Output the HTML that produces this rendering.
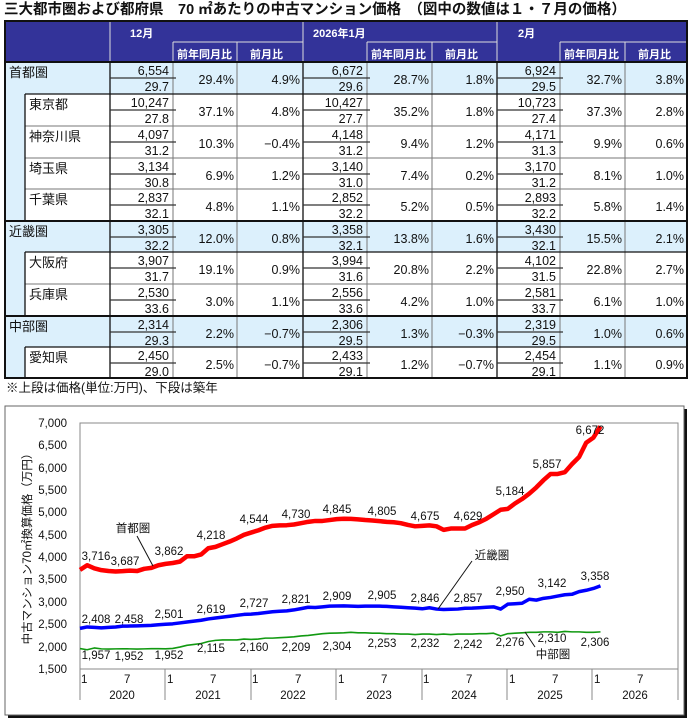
<!DOCTYPE html>
<html><head><meta charset="utf-8"><style>
body{margin:0;background:#fff;width:692px;height:722px;overflow:hidden}
svg{display:block}
text{font-family:"Liberation Sans","Noto Sans CJK JP",sans-serif}
.n{font-size:12.5px;text-anchor:end;fill:#111}
.j{font-size:13px;fill:#111}
.h{font-size:11px;fill:#fff;font-weight:bold}
.t{font-size:11.5px;fill:#111}
.a{font-size:11.5px;text-anchor:middle;fill:#111}
</style></head><body>
<svg width="692" height="722" viewBox="0 0 692 722">
<text x="4" y="14" style="font-size:14.5px;font-weight:bold" fill="#111">三大都市圏および都府県　70 ㎡あたりの中古マンション価格　（図中の数値は１・７月の価格）</text>
<!-- header -->
<rect x="5" y="21" width="682" height="41" fill="#333399"/>
<g stroke="#ddd" stroke-width="1">
<line x1="110" y1="21" x2="110" y2="62"/><line x1="303" y1="21" x2="303" y2="62"/><line x1="497" y1="21" x2="497" y2="62"/>
<line x1="173" y1="42" x2="303" y2="42"/><line x1="367" y1="42" x2="497" y2="42"/><line x1="560" y1="42" x2="687" y2="42"/>
<line x1="173" y1="42" x2="173" y2="62"/><line x1="237" y1="42" x2="237" y2="62"/>
<line x1="367" y1="42" x2="367" y2="62"/><line x1="432" y1="42" x2="432" y2="62"/>
<line x1="560" y1="42" x2="560" y2="62"/><line x1="625" y1="42" x2="625" y2="62"/>
</g>
<text class="h" x="130" y="37">12月</text><text class="h" x="313" y="37">2026年1月</text><text class="h" x="518" y="37">2月</text>
<text class="h" x="177" y="58">前年同月比</text><text class="h" x="250" y="58">前月比</text>
<text class="h" x="371" y="58">前年同月比</text><text class="h" x="445" y="58">前月比</text>
<text class="h" x="564" y="58">前年同月比</text><text class="h" x="638" y="58">前月比</text>
<!-- body fills -->
<rect x="5" y="62" width="682" height="316" fill="#fff"/>
<rect x="5" y="62" width="682" height="32" fill="#dcf0fc"/>
<rect x="5" y="221" width="682" height="31" fill="#dcf0fc"/>
<rect x="5" y="316" width="682" height="31" fill="#dcf0fc"/>
<rect x="5" y="94" width="20" height="127" fill="#dcf0fc"/>
<rect x="5" y="252" width="20" height="64" fill="#dcf0fc"/>
<rect x="5" y="347" width="20" height="31" fill="#dcf0fc"/>
<!-- grid -->
<g stroke="#777" stroke-width="1">
<line x1="173" y1="62" x2="173" y2="378"/><line x1="237" y1="62" x2="237" y2="378"/>
<line x1="367" y1="62" x2="367" y2="378"/><line x1="432" y1="62" x2="432" y2="378"/>
<line x1="560" y1="62" x2="560" y2="378"/><line x1="625" y1="62" x2="625" y2="378"/>
<line x1="25" y1="126" x2="687" y2="126"/><line x1="25" y1="158" x2="687" y2="158"/><line x1="25" y1="189" x2="687" y2="189"/>
<line x1="25" y1="284" x2="687" y2="284"/>
</g>
<g stroke="#111" stroke-width="1.3">
<line x1="110" y1="62" x2="110" y2="378"/><line x1="303" y1="62" x2="303" y2="378"/><line x1="497" y1="62" x2="497" y2="378"/>
<line x1="25" y1="94" x2="25" y2="221"/><line x1="25" y1="252" x2="25" y2="316"/><line x1="25" y1="347" x2="25" y2="378"/>
<line x1="25" y1="94" x2="687" y2="94"/><line x1="25" y1="252" x2="687" y2="252"/><line x1="25" y1="347" x2="687" y2="347"/>
</g>
<g stroke="#111" stroke-width="2">
<line x1="5" y1="62" x2="687" y2="62"/><line x1="5" y1="221" x2="687" y2="221"/><line x1="5" y1="316" x2="687" y2="316"/>
<rect x="5" y="21" width="682" height="357" fill="none"/>
</g>
<!-- price midlines -->
<g stroke="#333" stroke-width="1.3">
<path d="M110 78H176M303 78H370M497 78H563M110 110H176M303 110H370M497 110H563M110 142H176M303 142H370M497 142H563M110 174H176M303 174H370M497 174H563M110 205H176M303 205H370M497 205H563M110 237H176M303 237H370M497 237H563M110 268H176M303 268H370M497 268H563M110 300H176M303 300H370M497 300H563M110 332H176M303 332H370M497 332H563M110 363H176M303 363H370M497 363H563"/>
</g>
<!-- names -->
<text class="j" x="9" y="77">首都圏</text><text class="j" x="29" y="109">東京都</text><text class="j" x="29" y="141">神奈川県</text>
<text class="j" x="29" y="173">埼玉県</text><text class="j" x="29" y="204">千葉県</text><text class="j" x="9" y="236">近畿圏</text>
<text class="j" x="29" y="267">大阪府</text><text class="j" x="29" y="299">兵庫県</text><text class="j" x="9" y="331">中部圏</text><text class="j" x="29" y="362">愛知県</text>
<!-- values -->
<g class="n">
<text x="169" y="75">6,554</text><text x="169" y="91">29.7</text><text x="234" y="84">29.4%</text><text x="300" y="84">4.9%</text>
<text x="363" y="75">6,672</text><text x="363" y="91">29.6</text><text x="429" y="84">28.7%</text><text x="494" y="84">1.8%</text>
<text x="556" y="75">6,924</text><text x="556" y="91">29.5</text><text x="622" y="84">32.7%</text><text x="684" y="84">3.8%</text>

<text x="169" y="107">10,247</text><text x="169" y="123">27.8</text><text x="234" y="116">37.1%</text><text x="300" y="116">4.8%</text>
<text x="363" y="107">10,427</text><text x="363" y="123">27.7</text><text x="429" y="116">35.2%</text><text x="494" y="116">1.8%</text>
<text x="556" y="107">10,723</text><text x="556" y="123">27.4</text><text x="622" y="116">37.3%</text><text x="684" y="116">2.8%</text>

<text x="169" y="139">4,097</text><text x="169" y="155">31.2</text><text x="234" y="148">10.3%</text><text x="300" y="148">−0.4%</text>
<text x="363" y="139">4,148</text><text x="363" y="155">31.2</text><text x="429" y="148">9.4%</text><text x="494" y="148">1.2%</text>
<text x="556" y="139">4,171</text><text x="556" y="155">31.3</text><text x="622" y="148">9.9%</text><text x="684" y="148">0.6%</text>

<text x="169" y="171">3,134</text><text x="169" y="187">30.8</text><text x="234" y="180">6.9%</text><text x="300" y="180">1.2%</text>
<text x="363" y="171">3,140</text><text x="363" y="187">31.0</text><text x="429" y="180">7.4%</text><text x="494" y="180">0.2%</text>
<text x="556" y="171">3,170</text><text x="556" y="187">31.2</text><text x="622" y="180">8.1%</text><text x="684" y="180">1.0%</text>

<text x="169" y="202">2,837</text><text x="169" y="218">32.1</text><text x="234" y="211">4.8%</text><text x="300" y="211">1.1%</text>
<text x="363" y="202">2,852</text><text x="363" y="218">32.2</text><text x="429" y="211">5.2%</text><text x="494" y="211">0.5%</text>
<text x="556" y="202">2,893</text><text x="556" y="218">32.2</text><text x="622" y="211">5.8%</text><text x="684" y="211">1.4%</text>

<text x="169" y="234">3,305</text><text x="169" y="250">32.2</text><text x="234" y="243">12.0%</text><text x="300" y="243">0.8%</text>
<text x="363" y="234">3,358</text><text x="363" y="250">32.1</text><text x="429" y="243">13.8%</text><text x="494" y="243">1.6%</text>
<text x="556" y="234">3,430</text><text x="556" y="250">32.1</text><text x="622" y="243">15.5%</text><text x="684" y="243">2.1%</text>

<text x="169" y="265">3,907</text><text x="169" y="281">31.7</text><text x="234" y="274">19.1%</text><text x="300" y="274">0.9%</text>
<text x="363" y="265">3,994</text><text x="363" y="281">31.6</text><text x="429" y="274">20.8%</text><text x="494" y="274">2.2%</text>
<text x="556" y="265">4,102</text><text x="556" y="281">31.5</text><text x="622" y="274">22.8%</text><text x="684" y="274">2.7%</text>

<text x="169" y="297">2,530</text><text x="169" y="313">33.6</text><text x="234" y="306">3.0%</text><text x="300" y="306">1.1%</text>
<text x="363" y="297">2,556</text><text x="363" y="313">33.6</text><text x="429" y="306">4.2%</text><text x="494" y="306">1.0%</text>
<text x="556" y="297">2,581</text><text x="556" y="313">33.7</text><text x="622" y="306">6.1%</text><text x="684" y="306">1.0%</text>

<text x="169" y="329">2,314</text><text x="169" y="345">29.3</text><text x="234" y="338">2.2%</text><text x="300" y="338">−0.7%</text>
<text x="363" y="329">2,306</text><text x="363" y="345">29.5</text><text x="429" y="338">1.3%</text><text x="494" y="338">−0.3%</text>
<text x="556" y="329">2,319</text><text x="556" y="345">29.5</text><text x="622" y="338">1.0%</text><text x="684" y="338">0.6%</text>

<text x="169" y="360">2,450</text><text x="169" y="376">29.0</text><text x="234" y="369">2.5%</text><text x="300" y="369">−0.7%</text>
<text x="363" y="360">2,433</text><text x="363" y="376">29.1</text><text x="429" y="369">1.2%</text><text x="494" y="369">−0.7%</text>
<text x="556" y="360">2,454</text><text x="556" y="376">29.1</text><text x="622" y="369">1.1%</text><text x="684" y="369">0.9%</text>
</g>
<text x="6" y="392" style="font-size:12.5px" fill="#111">※上段は価格(単位:万円)、下段は築年</text>

<!-- chart frame -->
<rect x="8" y="409" width="679" height="309" fill="#111"/>
<rect x="5" y="406" width="679" height="309" fill="#fff" stroke="#666" stroke-width="1"/>
<!-- axes -->
<g stroke="#888" stroke-width="1" fill="none">
<rect x="80" y="423" width="598" height="246"/>
<line x1="80" y1="669" x2="80" y2="700"/><line x1="165" y1="669" x2="165" y2="700"/><line x1="251" y1="669" x2="251" y2="700"/>
<line x1="336" y1="669" x2="336" y2="700"/><line x1="422" y1="669" x2="422" y2="700"/><line x1="507" y1="669" x2="507" y2="700"/>
<line x1="592" y1="669" x2="592" y2="700"/><line x1="678" y1="669" x2="678" y2="700"/>
</g>
<g class="t" text-anchor="end">
<text x="67" y="427">7,000</text><text x="67" y="449">6,500</text><text x="67" y="472">6,000</text><text x="67" y="494">5,500</text>
<text x="67" y="516">5,000</text><text x="67" y="539">4,500</text><text x="67" y="561">4,000</text><text x="67" y="583">3,500</text>
<text x="67" y="606">3,000</text><text x="67" y="628">2,500</text><text x="67" y="651">2,000</text><text x="67" y="673">1,500</text>
</g>
<text class="t" transform="translate(31,546) rotate(-90)" text-anchor="middle">中古マンション70㎡換算価格（万円）</text>
<g class="t">
<text x="81" y="683">1</text><text x="124" y="683">7</text><text x="167" y="683">1</text><text x="210" y="683">7</text>
<text x="252" y="683">1</text><text x="295" y="683">7</text><text x="338" y="683">1</text><text x="381" y="683">7</text>
<text x="423" y="683">1</text><text x="466" y="683">7</text><text x="509" y="683">1</text><text x="552" y="683">7</text>
<text x="594" y="683">1</text><text x="637" y="683">7</text>
</g>
<g class="a">
<text x="122" y="699">2020</text><text x="208" y="699">2021</text><text x="293" y="699">2022</text><text x="379" y="699">2023</text>
<text x="464" y="699">2024</text><text x="550" y="699">2025</text><text x="635" y="699">2026</text>
</g>
<!-- series -->
<g transform="translate(80,669) scale(7.13,-0.04473) translate(0,-1500)" fill="none" stroke-linejoin="round">
<polyline vector-effect="non-scaling-stroke" stroke="#ff0000" stroke-width="4.5" points="0,3716 1,3820 2,3750 3,3710 4,3690 5,3680 6,3687 7,3700 8,3690 9,3740 10,3760 11,3820 12,3850 13,3870 14,3900 15,4020 16,4020 17,4060 18,4200 19,4230 20,4290 21,4350 22,4420 23,4500 24,4550 25,4600 26,4660 27,4700 28,4710 29,4715 30,4730 31,4760 32,4790 33,4810 34,4810 35,4830 36,4850 37,4860 38,4855 39,4845 40,4830 41,4820 42,4805 43,4790 44,4780 45,4760 46,4720 47,4690 48,4700 49,4710 50,4690 51,4610 52,4640 53,4640 54,4640 55,4720 56,4780 57,4860 58,4960 59,5060 60,5080 61,5200 62,5300 63,5420 64,5560 65,5720 66,5860 67,5860 68,5900 69,6080 70,6240 71,6560 72,6672 73,6924"/>
<polyline vector-effect="non-scaling-stroke" stroke="#0000ff" stroke-width="3.5" points="0,2408 1,2440 2,2430 3,2420 4,2430 5,2440 6,2458 7,2460 8,2465 9,2470 10,2475 11,2490 12,2501 13,2510 14,2530 15,2550 16,2570 17,2590 18,2619 19,2640 20,2660 21,2680 22,2700 23,2720 24,2727 25,2740 26,2760 27,2780 28,2790 29,2800 30,2821 31,2850 32,2880 33,2875 34,2890 35,2905 36,2909 37,2910 38,2905 39,2900 40,2905 41,2905 42,2905 43,2900 44,2890 45,2880 46,2870 47,2860 48,2846 49,2870 50,2840 51,2830 52,2835 53,2840 54,2857 55,2860 56,2870 57,2880 58,2890 59,2840 60,2950 61,2960 62,2970 63,3060 64,3040 65,3080 66,3100 67,3130 68,3160 69,3170 70,3230 71,3260 72,3300 73,3358"/>
<polyline vector-effect="non-scaling-stroke" stroke="#119911" stroke-width="1.6" points="0,1957 1,1930 2,1970 3,1950 4,1945 5,1950 6,1952 7,1950 8,1945 9,1950 10,1955 11,1955 12,1952 13,1960 14,1990 15,2030 16,2050 17,2070 18,2115 19,2140 20,2150 21,2150 22,2150 23,2170 24,2160 25,2170 26,2190 27,2190 28,2200 29,2209 30,2220 31,2240 32,2250 33,2270 34,2290 35,2300 36,2304 37,2310 38,2320 39,2310 40,2310 41,2300 42,2300 43,2290 44,2290 45,2280 46,2280 47,2270 48,2280 49,2280 50,2270 51,2280 52,2270 53,2280 54,2280 55,2280 56,2290 57,2290 58,2300 59,2240 60,2290 61,2300 62,2310 63,2320 64,2320 65,2330 66,2330 67,2320 68,2340 69,2330 70,2330 71,2320 72,2320 73,2330"/>
</g>
<!-- leaders -->
<g stroke="#111" stroke-width="1">
<line x1="137" y1="536" x2="153" y2="566"/><line x1="472" y1="561" x2="438" y2="609"/><line x1="525" y1="632" x2="535" y2="647"/>
</g>
<g class="a" dominant-baseline="middle">
<text x="96" y="557">3,716</text><text x="125" y="562">3,687</text><text x="169" y="552">3,862</text><text x="211" y="536">4,218</text>
<text x="254" y="520">4,544</text><text x="296" y="515">4,730</text><text x="337" y="510">4,845</text><text x="382" y="512">4,805</text>
<text x="425" y="517">4,675</text><text x="468" y="517">4,629</text><text x="510" y="492">5,184</text><text x="547" y="465">5,857</text>
<text x="590" y="431">6,672</text>
<text x="96" y="620">2,408</text><text x="129" y="620">2,458</text><text x="169" y="615">2,501</text><text x="211" y="610">2,619</text>
<text x="254" y="604">2,727</text><text x="296" y="600">2,821</text><text x="337" y="597">2,909</text><text x="382" y="596">2,905</text>
<text x="425" y="599">2,846</text><text x="468" y="599">2,857</text><text x="510" y="592">2,950</text><text x="552" y="584">3,142</text>
<text x="595" y="577">3,358</text>
<text x="96" y="656">1,957</text><text x="129" y="657">1,952</text><text x="169" y="656">1,952</text><text x="211" y="649">2,115</text>
<text x="254" y="648">2,160</text><text x="296" y="648">2,209</text><text x="337" y="647">2,304</text><text x="382" y="644">2,253</text>
<text x="425" y="644">2,232</text><text x="468" y="645">2,242</text><text x="510" y="643">2,276</text><text x="552" y="639">2,310</text>
<text x="595" y="643">2,306</text>
<text x="133" y="529">首都圏</text><text x="492" y="556">近畿圏</text><text x="553" y="655">中部圏</text>
</g>
</svg>
</body></html>
